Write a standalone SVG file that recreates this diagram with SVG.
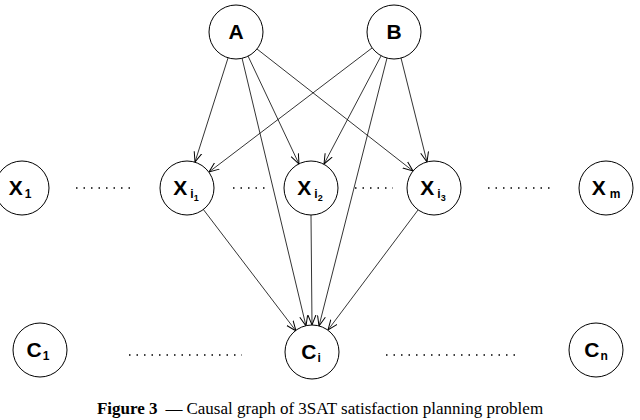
<svg xmlns="http://www.w3.org/2000/svg" width="640" height="420" viewBox="0 0 640 420">
<style>
circle{fill:#fff;stroke:#000;stroke-width:1}
.l{font-family:"Liberation Sans",Arial,sans-serif;font-weight:bold;font-size:21px;text-anchor:middle}
.s{font-size:12px}
.t{font-size:9px}
.e line{stroke:#000;stroke-width:0.8;marker-end:url(#ah)}
.d{stroke:#000;stroke-width:1.3;stroke-dasharray:1.5 6}
</style>
<defs><marker id="ah" viewBox="0 0 10 10" refX="10" refY="5" markerWidth="10" markerHeight="10" markerUnits="userSpaceOnUse" orient="auto"><path d="M0,1 L10,5 L0,9" fill="none" stroke="#000" stroke-width="1"/></marker></defs>
<g class="e" id="connectors">
<line x1="228" y1="58" x2="195" y2="162"/>
<line x1="248" y1="56" x2="299" y2="164"/>
<line x1="257" y1="49" x2="413" y2="171"/>
<line x1="242" y1="58" x2="306" y2="326"/>
<line x1="372" y1="48" x2="209" y2="172"/>
<line x1="381" y1="56" x2="324" y2="164"/>
<line x1="401" y1="58" x2="427" y2="162"/>
<line x1="387" y1="58" x2="319" y2="326"/>
<line x1="203" y1="209" x2="296" y2="331"/>
<line x1="311" y1="215" x2="312" y2="325"/>
<line x1="418" y1="210" x2="328" y2="330"/>
</g>
<g id="dots">
<line class="d" x1="76" y1="188" x2="136" y2="188"/>
<line class="d" x1="233" y1="188" x2="270" y2="188"/>
<line class="d" x1="355" y1="188" x2="393" y2="188"/>
<line class="d" x1="488" y1="188" x2="552" y2="188"/>
<line class="d" x1="129" y1="355" x2="242" y2="355"/>
<line class="d" x1="386" y1="355" x2="520" y2="355"/>
</g>
<g id="A"><circle cx="236" cy="32" r="27"/><text class="l" x="236" y="39">A</text></g>
<g id="B"><circle cx="394" cy="32" r="27"/><text class="l" x="394" y="39">B</text></g>
<g id="X1"><circle cx="22" cy="188" r="27"/><text class="l" x="20" y="195">X<tspan class="s" dx="2" dy="3">1</tspan></text></g>
<g id="Xi1"><circle cx="187" cy="188" r="27"/><text class="l" x="186" y="195">X<tspan class="s" dx="3" dy="3">i</tspan><tspan class="t" dy="3">1</tspan></text></g>
<g id="Xi2"><circle cx="311" cy="188" r="27"/><text class="l" x="310" y="195">X<tspan class="s" dx="3" dy="3">i</tspan><tspan class="t" dy="3">2</tspan></text></g>
<g id="Xi3"><circle cx="434" cy="188" r="27"/><text class="l" x="433" y="195">X<tspan class="s" dx="3" dy="3">i</tspan><tspan class="t" dy="3">3</tspan></text></g>
<g id="Xm"><circle cx="606" cy="188" r="27"/><text class="l" x="606" y="195">X<tspan class="s" dx="4" dy="3">m</tspan></text></g>
<g id="C1"><circle cx="40" cy="350" r="27"/><text class="l" x="38" y="357">C<tspan class="s" dx="1" dy="3">1</tspan></text></g>
<g id="Ci"><circle cx="312" cy="352" r="27"/><text class="l" x="311" y="359">C<tspan class="s" dx="1" dy="3">i</tspan></text></g>
<g id="Cn"><circle cx="596" cy="350" r="27"/><text class="l" x="596" y="357">C<tspan class="s" dx="1" dy="3">n</tspan></text></g>
<text x="320" y="414" font-family="Liberation Serif,serif" font-size="17px" text-anchor="middle"><tspan font-weight="bold">Figure 3</tspan><tspan dx="8">—</tspan><tspan dx="4">Causal graph of 3SAT satisfaction planning problem</tspan></text>
</svg>
